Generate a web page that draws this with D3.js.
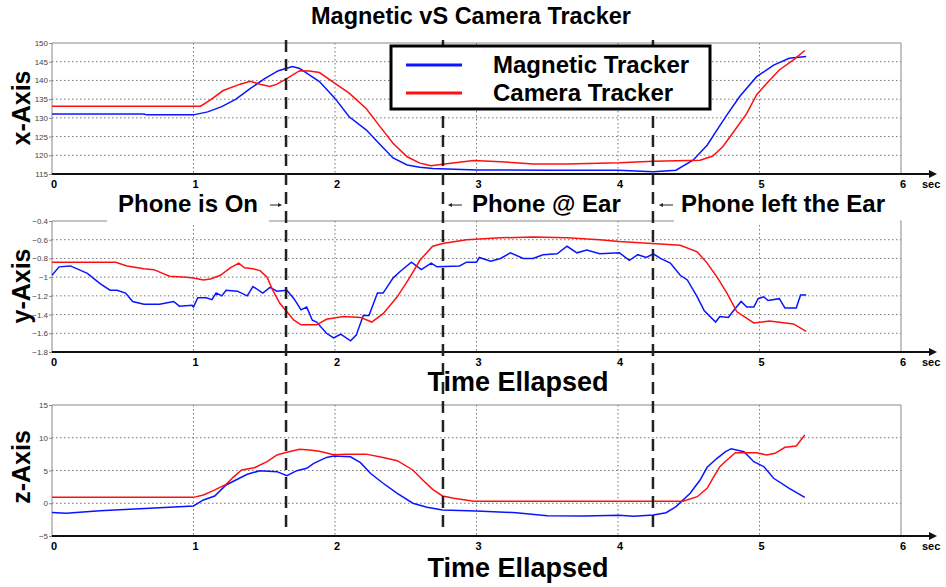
<!DOCTYPE html>
<html>
<head>
<meta charset="utf-8">
<script src="https://cdn.jsdelivr.net/npm/d3@7"></script>
<style>
  body { margin: 0; background: #fff; }
  text { font-family: "Liberation Sans", Arial, sans-serif; }
</style>
</head>
<body>
<svg width="946" height="587"></svg>
<script>
// time axis
const timeTicks = [0, 1, 2, 3, 4, 5, 6];
const eventTimes = [1.654, 2.763, 4.247]; // phone on, at ear, left ear

// x-Axis panel
const xTicks = [115, 120, 125, 130, 135, 140, 145, 150];
const xMag = [[0,131.0],[0.65,131.0],[0.67,130.8],[1.0,130.8],[1.1,131.6],[1.2,133.0],[1.3,135.0],[1.4,137.8],[1.5,140.4],[1.6,142.6],[1.7,143.7],[1.75,143.2],[1.89,139.7],[2.0,135.2],[2.1,130.3],[2.22,126.8],[2.32,122.8],[2.41,119.3],[2.51,117.4],[2.6,116.8],[2.69,116.5],[3.0,116.1],[3.5,116.0],[4.0,116.0],[4.25,115.6],[4.41,116.0],[4.53,118.7],[4.63,122.7],[4.70,126.8],[4.77,130.8],[4.86,135.7],[4.98,141.0],[5.1,144.1],[5.21,145.9],[5.33,146.4]];
const xCam = [[0,133.1],[1.05,133.1],[1.12,134.8],[1.21,137.3],[1.33,139.0],[1.40,139.8],[1.47,139.0],[1.54,138.4],[1.59,139.0],[1.65,140.3],[1.75,142.6],[1.82,142.5],[1.89,142.1],[2.0,139.2],[2.1,136.6],[2.22,132.5],[2.32,127.6],[2.41,123.2],[2.51,119.6],[2.6,117.9],[2.68,117.2],[2.76,117.6],[2.98,118.6],[3.17,118.3],[3.4,117.7],[3.64,117.7],[4.01,118.0],[4.25,118.4],[4.58,118.7],[4.67,119.8],[4.74,122.3],[4.81,125.9],[4.91,131.2],[4.98,136.2],[5.05,139.2],[5.14,142.8],[5.24,145.5],[5.32,148.0]];

// y-Axis panel
const yTicks = [-1.8, -1.6, -1.4, -1.2, -1, -0.8, -0.6, -0.4];
const yMag = [[0,-0.98],[0.05,-0.89],[0.13,-0.88],[0.25,-0.96],[0.34,-1.07],[0.41,-1.14],[0.46,-1.14],[0.52,-1.17],[0.57,-1.26],[0.65,-1.29],[0.76,-1.29],[0.86,-1.26],[0.9,-1.31],[0.99,-1.30],[1.0,-1.32],[1.03,-1.22],[1.09,-1.22],[1.13,-1.24],[1.16,-1.17],[1.2,-1.2],[1.23,-1.14],[1.31,-1.15],[1.38,-1.2],[1.42,-1.1],[1.49,-1.17],[1.54,-1.11],[1.59,-1.15],[1.66,-1.14],[1.71,-1.23],[1.76,-1.35],[1.8,-1.32],[1.84,-1.46],[1.87,-1.48],[1.94,-1.6],[1.99,-1.65],[2.04,-1.61],[2.11,-1.68],[2.15,-1.62],[2.2,-1.41],[2.24,-1.41],[2.3,-1.17],[2.34,-1.17],[2.41,-1.01],[2.46,-0.94],[2.54,-0.84],[2.61,-0.92],[2.68,-0.85],[2.72,-0.89],[2.88,-0.88],[2.93,-0.84],[3.0,-0.84],[3.02,-0.79],[3.1,-0.83],[3.17,-0.8],[3.24,-0.74],[3.33,-0.8],[3.4,-0.8],[3.47,-0.76],[3.57,-0.75],[3.64,-0.67],[3.71,-0.74],[3.78,-0.71],[3.87,-0.75],[4.01,-0.74],[4.08,-0.82],[4.14,-0.76],[4.2,-0.79],[4.25,-0.75],[4.3,-0.8],[4.37,-0.85],[4.44,-0.98],[4.49,-1.03],[4.56,-1.21],[4.61,-1.36],[4.69,-1.48],[4.72,-1.42],[4.78,-1.43],[4.81,-1.37],[4.87,-1.26],[4.91,-1.32],[4.96,-1.32],[4.99,-1.23],[5.03,-1.21],[5.06,-1.25],[5.14,-1.23],[5.18,-1.33],[5.26,-1.33],[5.29,-1.19],[5.33,-1.19]];
const yCam = [[0,-0.84],[0.45,-0.84],[0.53,-0.88],[0.65,-0.91],[0.72,-0.92],[0.83,-0.99],[0.95,-1.0],[1.0,-1.01],[1.07,-1.03],[1.12,-1.02],[1.19,-0.98],[1.26,-0.9],[1.32,-0.85],[1.36,-0.9],[1.42,-0.91],[1.47,-0.93],[1.52,-1.0],[1.56,-1.14],[1.61,-1.28],[1.66,-1.37],[1.71,-1.46],[1.76,-1.51],[1.87,-1.51],[1.94,-1.45],[2.06,-1.42],[2.18,-1.43],[2.26,-1.48],[2.34,-1.39],[2.44,-1.21],[2.53,-1.0],[2.6,-0.82],[2.69,-0.67],[2.76,-0.64],[2.93,-0.6],[3.17,-0.58],[3.4,-0.57],[3.64,-0.58],[3.87,-0.6],[4.01,-0.62],[4.24,-0.64],[4.44,-0.66],[4.56,-0.73],[4.63,-0.85],[4.70,-1.0],[4.77,-1.17],[4.84,-1.37],[4.96,-1.49],[5.07,-1.47],[5.24,-1.5],[5.33,-1.58]];

// z-Axis panel
const zTicks = [-5, 0, 5, 10, 15];
const zMag = [[0,-1.4],[0.1,-1.54],[0.34,-1.13],[0.69,-0.77],[1.0,-0.42],[1.07,0.5],[1.15,1.11],[1.23,2.79],[1.38,4.42],[1.47,4.97],[1.59,4.82],[1.66,4.21],[1.73,4.97],[1.8,5.33],[1.85,6.1],[1.94,7.0],[1.99,7.2],[2.11,7.1],[2.18,6.2],[2.25,4.57],[2.34,3.05],[2.44,1.52],[2.55,0.0],[2.65,-0.62],[2.76,-1.03],[3.0,-1.18],[3.28,-1.44],[3.5,-1.9],[3.76,-1.95],[4.01,-1.85],[4.11,-2.0],[4.25,-1.79],[4.34,-1.44],[4.41,-0.52],[4.51,1.52],[4.58,3.55],[4.63,5.49],[4.7,6.86],[4.76,7.87],[4.8,8.33],[4.89,7.87],[4.96,6.35],[5.03,5.59],[5.1,3.81],[5.21,2.28],[5.32,0.9]];
const zCam = [[0,0.9],[1.0,0.9],[1.07,1.26],[1.14,1.92],[1.23,2.89],[1.28,3.96],[1.34,5.08],[1.43,5.43],[1.52,6.35],[1.59,7.37],[1.66,7.78],[1.75,8.24],[1.82,8.13],[1.89,7.95],[1.99,7.41],[2.08,7.5],[2.22,7.5],[2.34,7.0],[2.44,6.5],[2.55,5.08],[2.62,3.55],[2.69,2.13],[2.76,1.11],[2.84,0.75],[2.98,0.3],[4.46,0.3],[4.56,1.0],[4.63,2.28],[4.67,3.81],[4.72,5.59],[4.77,6.6],[4.83,7.72],[4.98,7.72],[5.05,7.37],[5.11,7.62],[5.18,8.54],[5.26,8.75],[5.32,10.42]];

const seriesNames = ["Magnetic Tracker", "Camera Tracker"];
const seriesColors = ["#0a14ff", "#ff1010"];

const svg = d3.select("svg");
const xs = d3.scaleLinear().domain([0, 6]).range([52, 901]);

const panels = [
  { name: "x-Axis", ticks: xTicks, domain: [115, 150], range: [174, 43], mag: xMag, cam: xCam, fmt: d3.format("d"), labelY: 108 },
  { name: "y-Axis", ticks: yTicks, domain: [-1.8, -0.4], range: [352, 221], mag: yMag, cam: yCam, fmt: d => d3.format("")(+d.toFixed(1)), labelY: 286 },
  { name: "z-Axis", ticks: zTicks, domain: [-5, 15], range: [536, 405], mag: zMag, cam: zCam, fmt: d3.format("d"), labelY: 467 }
];

panels.forEach(function(p) {
  let ys = d3.scaleLinear().domain(p.domain).range(p.range);
  let g = svg.append("g");
  let top = ys(p.domain[1]), bot = ys(p.domain[0]);

  // dotted grid
  g.selectAll(".hg").data(p.ticks.slice(1, -1)).enter().append("line")
    .attr("x1", xs(0)).attr("x2", xs(6))
    .attr("y1", d => ys(d)).attr("y2", d => ys(d))
    .attr("stroke", "#777").attr("stroke-width", 1).attr("stroke-dasharray", "1.5,2.5");
  g.selectAll(".vg").data(timeTicks.slice(1, -1)).enter().append("line")
    .attr("x1", d => xs(d)).attr("x2", d => xs(d))
    .attr("y1", top).attr("y2", bot)
    .attr("stroke", "#777").attr("stroke-width", 1).attr("stroke-dasharray", "1.5,2.5");

  // box: left, top, right
  g.append("path")
    .attr("d", `M${xs(0)},${bot}V${top}H${xs(6)}V${bot}`)
    .attr("fill", "none").attr("stroke", "#888").attr("stroke-width", 1);

  // y ticks
  let yAxis = d3.axisLeft(ys).tickValues(p.ticks).tickSize(3).tickFormat(p.fmt);
  let ya = g.append("g").attr("transform", `translate(${xs(0)},0)`).call(yAxis);
  ya.select(".domain").remove();
  ya.selectAll("line").attr("stroke", "#888");
  ya.selectAll("text").attr("font-size", 8).attr("fill", "#444").attr("x", -4)
    .style("font-family", "Liberation Sans, Arial, sans-serif");

  // time axis with arrow
  g.append("line").attr("x1", xs(0)).attr("x2", 930).attr("y1", bot).attr("y2", bot)
    .attr("stroke", "#111").attr("stroke-width", 2);
  g.append("path").attr("d", `M929,${bot - 4}L937,${bot}L929,${bot + 4}Z`).attr("fill", "#111");
  g.selectAll(".tt").data(timeTicks).enter().append("text")
    .attr("x", d => xs(d) + 2).attr("y", bot + 14)
    .attr("text-anchor", "middle").attr("font-size", 11).attr("font-weight", "bold")
    .text(d => d);
  g.append("text").attr("x", 922).attr("y", bot + 14)
    .attr("font-size", 11).attr("font-weight", "bold").text("sec");

  // series
  let line = d3.line().x(d => xs(d[0])).y(d => ys(d[1]));
  [p.mag, p.cam].forEach(function(s, i) {
    g.append("path").datum(s).attr("d", line)
      .attr("fill", "none").attr("stroke", seriesColors[i]).attr("stroke-width", 1.5);
  });

  // panel label
  g.append("text")
    .attr("transform", `translate(30,${p.labelY}) rotate(-90)`)
    .attr("text-anchor", "middle").attr("font-size", 25).attr("font-weight", "bold")
    .text(p.name);
});

// x-label under middle and bottom panels
[391, 577].forEach(function(y) {
  svg.append("text").attr("x", 518).attr("y", y).attr("text-anchor", "middle")
    .attr("font-size", 27).attr("font-weight", "bold").text("Time Ellapsed");
});

// title
svg.append("text").attr("x", 471).attr("y", 24).attr("text-anchor", "middle")
  .attr("font-size", 23.5).attr("font-weight", "bold").text("Magnetic vS Camera Tracker");

// event annotations (white boxes cut the middle panel's top border)
svg.append("rect").attr("x", 107).attr("y", 188).attr("width", 162).attr("height", 35).attr("fill", "#fff");
svg.append("rect").attr("x", 674).attr("y", 188).attr("width", 226).attr("height", 35).attr("fill", "#fff");

const eventLabels = ["Phone is On", "Phone @ Ear", "Phone left the Ear"];
svg.append("text").attr("x", xs(eventTimes[0]) - 28).attr("y", 212).attr("text-anchor", "end")
  .attr("font-size", 24).attr("font-weight", "bold").text(eventLabels[0]);
svg.append("text").attr("x", xs(eventTimes[1]) + 29).attr("y", 212)
  .attr("font-size", 24).attr("font-weight", "bold").text(eventLabels[1]);
svg.append("text").attr("x", xs(eventTimes[2]) + 28).attr("y", 212)
  .attr("font-size", 24).attr("font-weight", "bold").text(eventLabels[2]);

function arrow(x1, x2, y) {
  let dir = x2 > x1 ? 1 : -1;
  svg.append("line").attr("x1", x1).attr("x2", x2 - dir * 3).attr("y1", y).attr("y2", y)
    .attr("stroke", "#222").attr("stroke-width", 1);
  svg.append("path").attr("d", `M${x2},${y}L${x2 - dir * 4},${y - 2}L${x2 - dir * 4},${y + 2}Z`).attr("fill", "#222");
}
arrow(xs(eventTimes[0]) - 16, xs(eventTimes[0]) - 4, 205);
arrow(xs(eventTimes[1]) + 19, xs(eventTimes[1]) + 5, 205);
arrow(xs(eventTimes[2]) + 20, xs(eventTimes[2]) + 6, 205);

// dashed event lines through all panels
svg.selectAll(".ev").data(eventTimes).enter().append("line")
  .attr("x1", d => xs(d)).attr("x2", d => xs(d)).attr("y1", 40).attr("y2", 534)
  .attr("stroke", "#222").attr("stroke-width", 2.5).attr("stroke-dasharray", "12,7");

// legend
const lg = svg.append("g");
lg.append("rect").attr("x", 391).attr("y", 46).attr("width", 319).attr("height", 63)
  .attr("fill", "#fff").attr("stroke", "#000").attr("stroke-width", 3);
seriesNames.forEach(function(n, i) {
  let y = 65 + i * 28;
  lg.append("line").attr("x1", 406).attr("x2", 462).attr("y1", y).attr("y2", y)
    .attr("stroke", seriesColors[i]).attr("stroke-width", 3);
  lg.append("text").attr("x", 493).attr("y", y + 8).attr("font-size", 24).attr("font-weight", "bold").text(n);
});
</script>
</body>
</html>
